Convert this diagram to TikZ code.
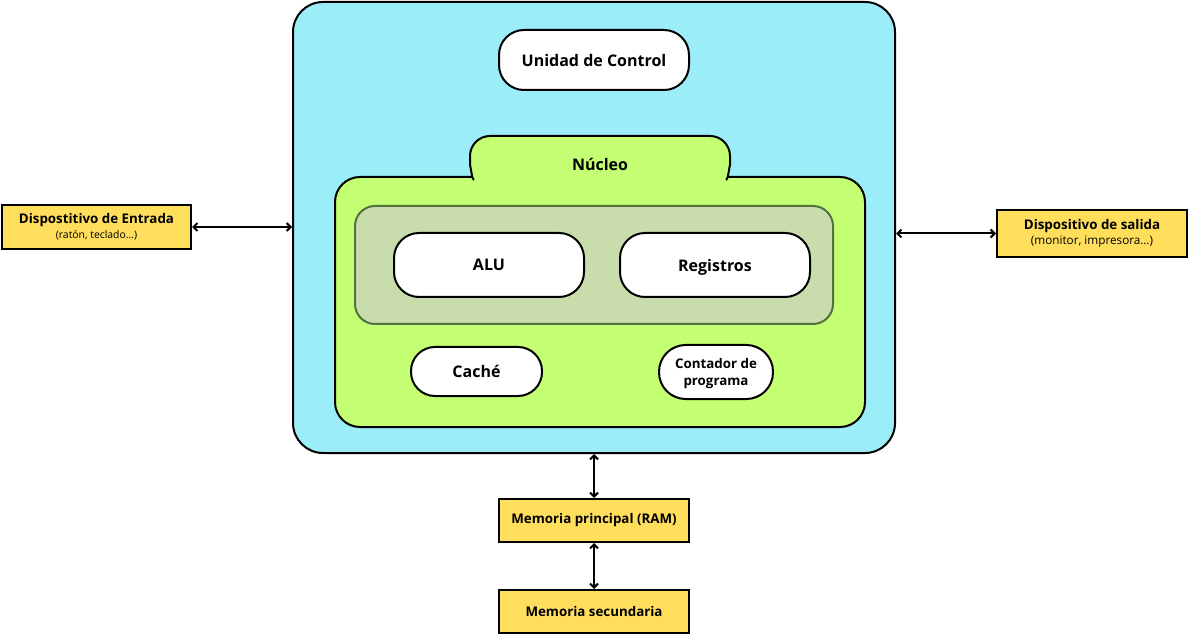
\documentclass[tikz,border=0pt]{standalone}
\usepackage{fontspec}
\setmainfont{Open Sans}
\usepackage{tikz}
\usetikzlibrary{arrows.meta}

\definecolor{cpucyan}{HTML}{9BEEF8}
\definecolor{nucleolime}{HTML}{C4FF73}
\definecolor{grupogreen}{HTML}{C8DDAB}
\definecolor{grupoline}{HTML}{557040}
\definecolor{devyellow}{HTML}{FFDE5C}

\tikzset{
	block/.style={draw, line width=1.5pt, inner sep=0pt, align=center, font=\bfseries},
	unit/.style={block, fill=white, rounded corners=18.75pt, text depth=0pt, font=\bfseries\fontsize{12}{14}\selectfont},
	device/.style={block, fill=devyellow, font=\bfseries\fontsize{10}{12}\selectfont},
	link/.style={line width=1.5pt, {Straight Barb[length=3pt,width=6pt]}-{Straight Barb[length=3pt,width=6pt]}}
}

\begin{document}
\begin{tikzpicture}[x=0.75pt, y=-0.75pt]
	\useasboundingbox (0,0) rectangle (1188,634);
	\node (cpu) at (594,227.5) [block, fill=cpucyan, rounded corners=22.5pt, minimum width=451.5pt, minimum height=338.25pt] {};
	\node (uc) at (594,60) [unit, minimum width=142.5pt, minimum height=45pt] {Unidad de Control};
	% nucleo: body with a tab on top
	\draw[line width=1.5pt, fill=nucleolime, rounded corners=18.75pt] (335,177) rectangle (865,427);
	\draw[line width=1.5pt, fill=nucleolime] (474,178.5) to[out=-110,in=90] (470,166) -- (470,156)
		arc[start angle=180, end angle=270, radius=20] -- (710,136)
		arc[start angle=270, end angle=360, radius=20] -- (730,166) to[out=90,in=-70] (726,178.5);
	\node (nucleo) at (600,164) [font=\bfseries\fontsize{12}{14}\selectfont] {Núcleo};
	\node (grupo) at (594,265) [block, draw=grupoline, fill=grupogreen, rounded corners=15pt, minimum width=358.5pt, minimum height=88.5pt] {};
		\node (alu) at (489,265) [unit, minimum width=142.5pt, minimum height=48pt] {ALU};
		\node (reg) at (715,265) [unit, minimum width=142.5pt, minimum height=48pt] {Registros};
	\node (cache) at (476.5,371.5) [unit, rounded corners=18pt, minimum width=98.25pt, minimum height=36.75pt] {Caché};
	\node (pc) at (716,372) [unit, rounded corners=20pt, minimum width=85.5pt, minimum height=40.5pt, font=\bfseries\fontsize{10}{13}\selectfont] {Contador de\\programa};
	\node (entrada) at (96.5,227) [device, minimum width=141.75pt, minimum height=33pt] {Dispostitivo de Entrada\\[-1pt]{\mdseries\fontsize{7.8}{9}\selectfont(ratón, teclado…)}};
	\node (salida) at (1092,233.5) [device, minimum width=142.5pt, minimum height=35.25pt] {Dispositivo de salida\\[-1pt]{\mdseries\fontsize{8.8}{10}\selectfont(monitor, impresora…)}};
	\node (ram) at (594,520.5) [device, minimum width=142.5pt, minimum height=32.25pt] {Memoria principal (RAM)};
	\node (sec) at (594,611.5) [device, minimum width=142.5pt, minimum height=32.25pt] {Memoria secundaria};
	\draw[link] (entrada.east) -- (entrada.east -| cpu.west);
	\draw[link] (salida.west -| cpu.east) -- (salida.west);
	\draw[link] (cpu.south) -- (ram.north);
	\draw[link] (ram.south) -- (sec.north);
\end{tikzpicture}
\end{document}
